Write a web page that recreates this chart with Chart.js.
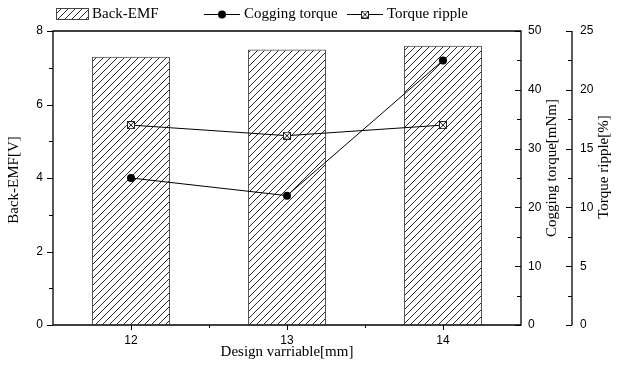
<!DOCTYPE html>
<html><head><meta charset="utf-8">
<script src="https://cdn.jsdelivr.net/npm/chart.js@4.4.1/dist/chart.umd.min.js"></script>
<style>html,body{margin:0;padding:0;background:#fff}#wrap{width:624px;height:370px}</style>
</head><body><div id="wrap"><canvas id="c" width="624" height="370"></canvas></div>
<script>
const categories = ['12', '13', '14'];
const backEmf = [7.3, 7.5, 7.6];
const coggingTorque = [25, 22, 45];
const torqueRipple = [17, 16.1, 17];
const seriesNames = ['Back-EMF', 'Cogging torque', 'Torque ripple'];
const axisTitles = ['Design varriable[mm]', 'Back-EMF[V]', 'Cogging torque[mNm]', 'Torque ripple[%]'];
const emfRange = [0, 8, 2];
const coggingRange = [0, 50, 10];
const rippleRange = [0, 25, 5];

const SERIF = "'Liberation Serif', 'Times New Roman', serif";
const SANS = "'Liberation Sans', Arial, sans-serif";

const canvas = document.getElementById('c');
const ctx0 = canvas.getContext('2d');

function makeHatch() {
  const s = 7;
  const c = document.createElement('canvas');
  c.width = s; c.height = s;
  const g = c.getContext('2d');
  g.strokeStyle = '#111';
  g.lineWidth = 0.9;
  g.beginPath();
  g.moveTo(0, s); g.lineTo(s, 0);
  g.moveTo(-1, 1); g.lineTo(1, -1);
  g.moveTo(s - 1, s + 1); g.lineTo(s + 1, s - 1);
  g.stroke();
  return ctx0.createPattern(c, 'repeat');
}
const hatch = makeHatch();

function makeBoxX() {
  const c = document.createElement('canvas');
  c.width = 8; c.height = 8;
  const g = c.getContext('2d');
  g.fillStyle = '#fff';
  g.fillRect(0, 0, 8, 8);
  g.strokeStyle = '#222';
  g.lineWidth = 1;
  g.strokeRect(0.5, 0.5, 7, 7);
  g.beginPath();
  g.moveTo(1, 1); g.lineTo(7, 7);
  g.moveTo(7, 1); g.lineTo(1, 7);
  g.stroke();
  return c;
}
const boxX = makeBoxX();

function axisW(w) { return function (scale) { scale.width = w; }; }

const decor = {
  id: 'decor',
  afterDatasetsDraw(chart) {
    const c = chart.ctx;
    const a = chart.chartArea;
    const sx = chart.scales.x, sy = chart.scales.y, s1 = chart.scales.y1, s2 = chart.scales.y2;
    c.save();
    c.strokeStyle = '#000';
    c.lineWidth = 1.3;
    c.beginPath();
    c.rect(a.left, a.top, a.right - a.left, a.bottom - a.top);
    c.stroke();
    const x2 = s2.left;
    c.beginPath();
    c.moveTo(x2, s2.getPixelForValue(rippleRange[0]));
    c.lineTo(x2, s2.getPixelForValue(rippleRange[1]));
    c.stroke();
    c.lineWidth = 1;
    c.beginPath();
    for (let v = emfRange[0]; v <= emfRange[1] + 1e-9; v += emfRange[2] / 2) {
      const y = Math.round(sy.getPixelForValue(v)) + 0.5;
      const major = Math.abs(v / emfRange[2] - Math.round(v / emfRange[2])) < 1e-6;
      c.moveTo(a.left, y); c.lineTo(a.left - (major ? 6 : 4), y);
    }
    for (let v = coggingRange[0]; v <= coggingRange[1] + 1e-9; v += coggingRange[2] / 2) {
      const y = Math.round(s1.getPixelForValue(v)) + 0.5;
      const major = Math.abs(v / coggingRange[2] - Math.round(v / coggingRange[2])) < 1e-6;
      c.moveTo(a.right, y); c.lineTo(a.right - (major ? 6 : 4), y);
    }
    for (let v = rippleRange[0]; v <= rippleRange[1] + 1e-9; v += rippleRange[2] / 2) {
      const y = Math.round(s2.getPixelForValue(v)) + 0.5;
      const major = Math.abs(v / rippleRange[2] - Math.round(v / rippleRange[2])) < 1e-6;
      c.moveTo(x2, y); c.lineTo(x2 - (major ? 6 : 4), y);
    }
    for (let i = 0; i < categories.length; i++) {
      const x = Math.round(sx.getPixelForValue(i)) + 0.5;
      c.moveTo(x, a.bottom); c.lineTo(x, a.bottom + 5);
      if (i > 0) {
        const xb = Math.round((sx.getPixelForValue(i) + sx.getPixelForValue(i - 1)) / 2) + 0.5;
        c.moveTo(xb, a.bottom); c.lineTo(xb, a.bottom + 3);
      }
    }
    c.stroke();
    c.restore();
  },
  afterDraw(chart) {
    const c = chart.ctx;
    const a = chart.chartArea;
    c.save();
    c.fillStyle = '#000';
    c.font = '15px ' + SERIF;
    c.textBaseline = 'middle';
    c.textAlign = 'center';
    c.fillText(axisTitles[0], (a.left + a.right) / 2, 352);
    const rot = (t, x, y) => { c.save(); c.translate(x, y); c.rotate(-Math.PI / 2); c.fillText(t, 0, 0); c.restore(); };
    rot(axisTitles[1], 14, 180);
    rot(axisTitles[2], 552, 168);
    rot(axisTitles[3], 604, 167);
    const ly = 14;
    c.textAlign = 'left';
    c.fillStyle = hatch;
    c.fillRect(56, ly - 6, 33, 12);
    c.strokeStyle = '#444';
    c.lineWidth = 1;
    c.strokeRect(56.5, ly - 5.5, 32, 11);
    c.fillStyle = '#000';
    c.fillText(seriesNames[0], 92, ly);
    c.strokeStyle = '#000';
    c.beginPath();
    c.moveTo(204, ly + 0.5); c.lineTo(240, ly + 0.5);
    c.moveTo(347, ly + 0.5); c.lineTo(383, ly + 0.5);
    c.stroke();
    c.beginPath();
    c.arc(222, ly + 0.5, 4, 0, Math.PI * 2);
    c.fill();
    c.fillText(seriesNames[1], 244, ly);
    c.drawImage(boxX, 365 - 4, ly + 0.5 - 4);
    c.fillText(seriesNames[2], 387, ly);
    c.restore();
  }
};

new Chart(canvas, {
  data: {
    labels: categories,
    datasets: [
      {
        type: 'line', label: seriesNames[1], data: coggingTorque, yAxisID: 'y1', order: 1,
        borderColor: '#000', borderWidth: 1, pointRadius: 4, pointBackgroundColor: '#000',
        pointBorderColor: '#000', pointBorderWidth: 0, tension: 0, fill: false
      },
      {
        type: 'line', label: seriesNames[2], data: torqueRipple, yAxisID: 'y2', order: 1,
        borderColor: '#000', borderWidth: 1, pointStyle: boxX, pointRadius: 4, tension: 0, fill: false
      },
      {
        type: 'bar', label: seriesNames[0], data: backEmf, yAxisID: 'y', order: 3,
        backgroundColor: hatch, borderColor: '#555', borderWidth: 1,
        barPercentage: 0.5, categoryPercentage: 1
      }
    ]
  },
  options: {
    responsive: false,
    devicePixelRatio: 1,
    animation: false,
    layout: { padding: { top: 31, left: 0, right: 0, bottom: 0 } },
    plugins: { legend: { display: false }, tooltip: { enabled: false } },
    scales: {
      x: {
        type: 'category', offset: true, afterFit: s => { s.height = 45; },
        grid: { display: true, drawOnChartArea: false, drawTicks: true, tickLength: 5, color: 'rgba(0,0,0,0)' },
        border: { display: false },
        ticks: { color: '#000', font: { family: SANS, size: 12 }, padding: 3, maxRotation: 0 }
      },
      y: {
        position: 'left', min: emfRange[0], max: emfRange[1], afterFit: axisW(53),
        grid: { display: true, drawOnChartArea: false, drawTicks: true, tickLength: 5, color: 'rgba(0,0,0,0)' },
        border: { display: false },
        ticks: { stepSize: emfRange[2], color: '#000', font: { family: SANS, size: 12 }, padding: 5 }
      },
      y1: {
        position: 'right', min: coggingRange[0], max: coggingRange[1], afterFit: axisW(51),
        grid: { display: true, drawOnChartArea: false, drawTicks: true, tickLength: 5, color: 'rgba(0,0,0,0)' },
        border: { display: false },
        ticks: { stepSize: coggingRange[2], color: '#000', font: { family: SANS, size: 12 }, padding: 2 }
      },
      y2: {
        position: 'right', min: rippleRange[0], max: rippleRange[1], afterFit: axisW(52),
        grid: { display: true, drawOnChartArea: false, drawTicks: true, tickLength: 5, color: 'rgba(0,0,0,0)' },
        border: { display: false },
        ticks: { stepSize: rippleRange[2], color: '#000', font: { family: SANS, size: 12 }, padding: 3 }
      }
    }
  },
  plugins: [decor]
});
</script>
</body></html>
